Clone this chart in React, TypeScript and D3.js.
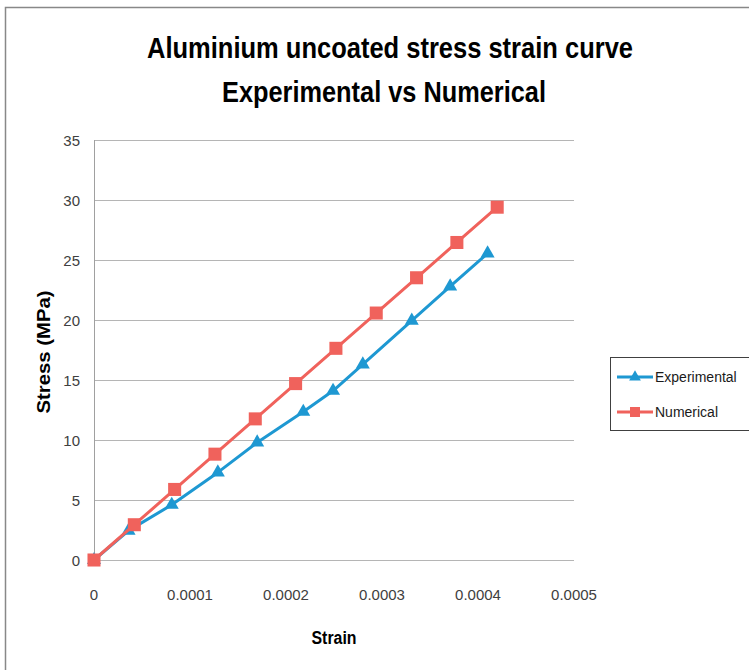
import React from "react";
import * as d3 from "d3";

const yTicks = [0, 5, 10, 15, 20, 25, 30, 35];
const xTicks = [0, 0.0001, 0.0002, 0.0003, 0.0004, 0.0005];
const xTickLabels = ["0", "0.0001", "0.0002", "0.0003", "0.0004", "0.0005"];

const expStrain = [0, 0.000036, 0.000081, 0.000129, 0.00017, 0.000218, 0.000249, 0.00028, 0.000331, 0.000371, 0.00041];
const expStress = [0, 2.45, 4.6, 7.3, 9.8, 12.35, 14.1, 16.3, 19.95, 22.8, 25.55];

const numStrain = [0, 0.000042, 0.000084, 0.000126, 0.000168, 0.00021, 0.000252, 0.000294, 0.000336, 0.000378, 0.00042];
const numStress = [0, 2.94, 5.88, 8.82, 11.76, 14.7, 17.64, 20.58, 23.52, 26.46, 29.4];

const seriesNames = ["Experimental", "Numerical"];
const titleLines = ["Aluminium uncoated stress strain curve", "Experimental vs Numerical"];

const BLUE = "#1E98D2";
const RED = "#F0625C";

export default function App() {
  const x = d3.scaleLinear().domain([0, 0.0005]).range([94, 574]);
  const y = d3.scaleLinear().domain([0, 35]).range([560, 140]);

  const expData = expStrain.map((s, i) => [s, expStress[i]] as [number, number]);
  const numData = numStrain.map((s, i) => [s, numStress[i]] as [number, number]);

  const line = d3
    .line<[number, number]>()
    .x((d) => x(d[0]))
    .y((d) => y(d[1]));

  const tri = d3.symbol().type(d3.symbolTriangle).size(85)() as string;
  const sq = d3.symbol().type(d3.symbolSquare).size(170)() as string;
  const triL = d3.symbol().type(d3.symbolTriangle).size(60)() as string;
  const sqL = d3.symbol().type(d3.symbolSquare).size(100)() as string;

  const tickFont = "'Liberation Sans', Arial, sans-serif";
  const boldFont = "'Liberation Sans', Arial, sans-serif";

  return (
    <svg
      width={749}
      height={670}
      style={{ position: "absolute", left: 0, top: 0, display: "block", background: "#fff" }}
    >
      <rect x={0} y={0} width={749} height={670} fill="#fff" />
      <rect x={5.5} y={7.5} width={800} height={700} fill="#fff" stroke="#888" strokeWidth={1.5} />

      {/* Title */}
      <text
        x={390}
        y={58}
        textAnchor="middle"
        fontFamily={boldFont}
        fontWeight="bold"
        fontSize={30}
        textLength={486}
        lengthAdjust="spacingAndGlyphs"
        fill="#000"
      >
        {titleLines[0]}
      </text>
      <text
        x={384}
        y={102}
        textAnchor="middle"
        fontFamily={boldFont}
        fontWeight="bold"
        fontSize={30}
        textLength={324}
        lengthAdjust="spacingAndGlyphs"
        fill="#000"
      >
        {titleLines[1]}
      </text>

      {/* Gridlines */}
      {yTicks.map((t) => (
        <line key={"g" + t} x1={94} x2={574} y1={y(t) + 0.5} y2={y(t) + 0.5} stroke="#B5B5B5" strokeWidth={1} />
      ))}
      <line x1={94.5} x2={94.5} y1={140} y2={560} stroke="#A0A0A0" strokeWidth={1} />

      {/* Y tick labels */}
      {yTicks.map((t) => (
        <text
          key={"yl" + t}
          x={80}
          y={y(t) + 5.5}
          textAnchor="end"
          fontFamily={tickFont}
          fontSize={15}
          fill="#404040"
        >
          {t}
        </text>
      ))}

      {/* X tick labels */}
      {xTicks.map((t, i) => (
        <text
          key={"xl" + t}
          x={x(t)}
          y={600}
          textAnchor="middle"
          fontFamily={tickFont}
          fontSize={15}
          fill="#404040"
        >
          {xTickLabels[i]}
        </text>
      ))}

      {/* Axis titles */}
      <text
        x={334}
        y={644}
        textAnchor="middle"
        fontFamily={boldFont}
        fontWeight="bold"
        fontSize={18}
        textLength={45}
        lengthAdjust="spacingAndGlyphs"
        fill="#000"
      >
        Strain
      </text>
      <text
        transform={`translate(50, 352) rotate(-90)`}
        textAnchor="middle"
        fontFamily={boldFont}
        fontWeight="bold"
        fontSize={18}
        textLength={123}
        lengthAdjust="spacingAndGlyphs"
        fill="#000"
      >
        Stress (MPa)
      </text>

      {/* Experimental series */}
      <path d={line(expData) as string} fill="none" stroke={BLUE} strokeWidth={3} strokeLinejoin="round" />
      {expData.map((d, i) => (
        <path key={"e" + i} d={tri} transform={`translate(${x(d[0])},${y(d[1])})`} fill={BLUE} />
      ))}

      {/* Numerical series */}
      <path d={line(numData) as string} fill="none" stroke={RED} strokeWidth={3} strokeLinejoin="round" />
      {numData.map((d, i) => (
        <path key={"n" + i} d={sq} transform={`translate(${x(d[0])},${y(d[1])})`} fill={RED} />
      ))}

      {/* Legend */}
      <rect x={610.5} y={357.5} width={150} height={73} fill="#fff" stroke="#404040" strokeWidth={1} />
      <line x1={617} x2={653} y1={377} y2={377} stroke={BLUE} strokeWidth={3} />
      <path d={triL} transform="translate(635,377)" fill={BLUE} />
      <text x={655} y={382} fontFamily={tickFont} fontSize={14} fill="#1a1a1a">
        {seriesNames[0]}
      </text>
      <line x1={617} x2={653} y1={412} y2={412} stroke={RED} strokeWidth={3} />
      <path d={sqL} transform="translate(635,412)" fill={RED} />
      <text x={655} y={417} fontFamily={tickFont} fontSize={14} fill="#1a1a1a">
        {seriesNames[1]}
      </text>
    </svg>
  );
}
